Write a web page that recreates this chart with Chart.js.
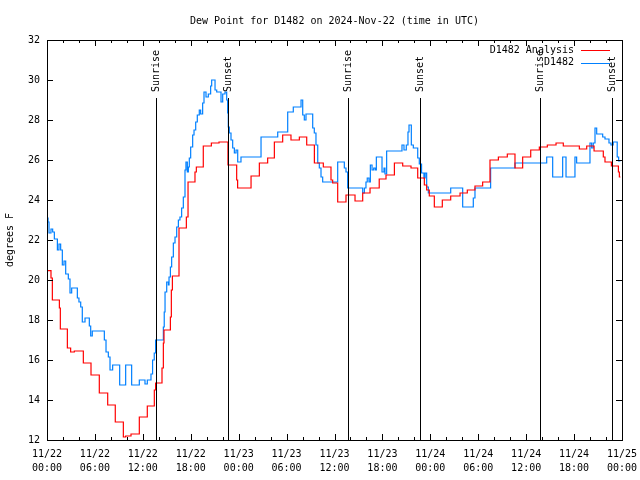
<!DOCTYPE html>
<html>
<head>
<meta charset="utf-8">
<script src="https://cdn.jsdelivr.net/npm/chart.js@4.4.1/dist/chart.umd.min.js"></script>
<style>
  html, body { margin: 0; padding: 0; background: #fff; }
</style>
</head>
<body>
<canvas id="dewpoint" width="640" height="480"></canvas>
<script>
// hours since 11/22 00:00 UTC -> dew point (F), each value holds until the next hour mark
const analysisHours = [0, 0.5, 0.67, 1.55, 1.67, 2.55, 2.96, 3.42, 4.55, 5.51, 6.55, 7.6, 8.55, 9.56, 9.85, 10.52, 11.56, 12.56, 13.44, 13.6,
  14.4, 14.57, 14.65, 15.45, 15.57, 15.7, 16.53, 17.45, 17.66, 18.53, 18.7, 19.57, 20.58, 21.54, 22.66, 23.75, 23.87, 25.55, 26.59, 27.63,
  28.47, 29.51, 30.55, 31.6, 32.52, 33.48, 34.6, 35.56, 35.77, 36.4, 37.44, 38.57, 39.53, 40.45, 41.6, 42.45, 43.5, 44.54, 45.58, 46.42,
  47.25, 47.54, 47.87, 48.5, 49.5, 50.55, 51.72, 52.63, 53.59, 54.55, 55.47, 56.52, 57.64, 58.6, 59.56, 60.57, 61.65, 62.65, 63.74, 64.65,
  66.66, 67.58, 68.5, 69.66, 69.87, 70.67, 71.55, 71.67, 71.8]
const analysisDew = [20.47, 20.1, 19.0, 18.6, 17.55, 16.6, 16.4, 16.45, 15.85, 15.25, 14.35, 13.75, 12.9, 12.15, 12.2, 12.3, 13.15, 13.7, 14.5, 14.85,
  15.6, 16.85, 17.5, 18.15, 19.5, 20.2, 22.6, 23.15, 24.9, 25.4, 25.65, 26.7, 26.85, 26.9, 25.75, 25.0, 24.6, 25.2, 25.85, 26.1,
  26.9, 27.25, 27.0, 27.15, 26.75, 25.85, 25.65, 25.0, 24.85, 23.9, 24.25, 23.95, 24.35, 24.6, 25.05, 25.25, 25.85, 25.7, 25.6, 25.1,
  24.75, 24.5, 24.2, 23.65, 24.0, 24.2, 24.35, 24.5, 24.7, 24.9, 26.0, 26.15, 26.3, 25.6, 26.15, 26.5, 26.65, 26.75, 26.85, 26.7,
  26.55, 26.7, 26.45, 26.15, 25.9, 25.7, 25.4, 25.15, 25.15]

const stationHours = [0, 0.13, 0.25, 0.5, 0.71, 0.92, 1.3, 1.5, 1.71, 1.92, 2.13, 2.34, 2.67, 2.88, 3.09, 3.8, 4.0, 4.22, 4.42, 4.76,
  5.3, 5.47, 5.67, 7.18, 7.39, 7.68, 7.89, 8.22, 9.1, 9.85, 10.6, 11.56, 12.27, 12.56, 13.02, 13.22, 13.43, 13.6, 14.57, 14.68,
  14.78, 14.99, 15.2, 15.28, 15.45, 15.61, 15.82, 16.03, 16.24, 16.45, 16.65, 16.86, 17.07, 17.28, 17.4, 17.57, 17.7, 17.82, 17.99, 18.24,
  18.41, 18.62, 18.82, 19.07, 19.24, 19.49, 19.66, 19.91, 20.2, 20.49, 20.62, 21.04, 21.25, 21.79, 22.0, 22.29, 22.5, 22.62, 22.7, 22.83,
  23.04, 23.25, 23.46, 23.67, 23.88, 24.29, 26.8, 28.89, 30.14, 30.84, 31.81, 32.02, 32.22, 32.43, 33.27, 33.47, 33.68, 33.9, 34.1, 34.31,
  34.52, 36.4, 37.23, 37.44, 37.65, 39.53, 39.74, 39.94, 40.1, 40.32, 40.49, 40.7, 40.91, 41.11, 41.24, 41.95, 42.2, 42.32, 42.53, 44.45,
  44.7, 44.99, 45.2, 45.33, 45.62, 45.87, 46.42, 46.62, 46.9, 47.2, 47.35, 47.54, 47.75, 50.55, 52.05, 53.38, 53.59, 55.55, 58.6, 62.57,
  63.32, 64.57, 64.99, 66.11, 66.32, 67.99, 68.2, 68.4, 68.62, 68.83, 69.58, 69.87, 70.37, 70.62, 70.9, 71.4, 71.58, 71.8]
const stationDew = [23.1, 22.9, 22.35, 22.55, 22.4, 22.05, 21.5, 21.8, 21.5, 20.75, 20.95, 20.3, 20.05, 19.35, 19.6, 19.1, 18.9, 18.65, 17.9, 18.1,
  17.7, 17.2, 17.45, 17.0, 16.4, 16.15, 15.5, 15.75, 14.75, 15.75, 14.75, 15.0, 14.8, 15.0, 15.3, 16.0, 16.35, 17.0, 17.65, 18.4,
  19.4, 19.9, 19.75, 20.15, 20.65, 21.15, 21.85, 22.15, 22.65, 23.0, 23.15, 23.6, 24.15, 25.5, 25.9, 25.4, 25.65, 26.1, 26.65, 27.25,
  27.5, 27.9, 28.25, 28.5, 28.3, 28.85, 29.4, 29.15, 29.3, 29.7, 30.0, 29.5, 29.4, 28.9, 29.3, 29.4, 29.0, 28.35, 27.65, 27.35,
  27.0, 26.6, 26.35, 26.5, 25.9, 26.15, 27.15, 27.4, 28.4, 28.65, 29.0, 28.25, 28.0, 28.3, 27.6, 27.35, 26.75, 25.85, 25.6, 25.15,
  24.9, 25.9, 25.6, 25.4, 24.6, 24.35, 24.6, 24.9, 25.1, 24.9, 25.75, 25.5, 25.6, 25.5, 26.15, 25.4, 25.6, 25.3, 26.45, 26.75,
  26.5, 26.75, 27.4, 27.75, 26.75, 26.6, 26.1, 25.8, 25.35, 25.1, 25.35, 24.65, 24.35, 24.6, 23.65, 24.1, 24.6, 25.6, 25.85, 26.15,
  25.15, 26.15, 25.15, 26.15, 25.85, 26.85, 26.6, 26.85, 27.6, 27.3, 27.15, 27.05, 26.85, 26.75, 26.9, 26.15, 25.95, 25.95]

const sunHours = [13.65, 22.7, 37.72, 46.7, 61.7, 70.8]
const sunLabels = ['Sunrise', 'Sunset', 'Sunrise', 'Sunset', 'Sunrise', 'Sunset']

const dayLabels = ['11/22', '11/22', '11/22', '11/22', '11/23', '11/23', '11/23', '11/23', '11/24', '11/24', '11/24', '11/24', '11/25']
const timeLabels = ['00:00', '06:00', '12:00', '18:00', '00:00', '06:00', '12:00', '18:00', '00:00', '06:00', '12:00', '18:00', '00:00']

const MONO = "'DejaVu Sans Mono', monospace"

function toPoints(hours, values) {
  return hours.map((h, i) => ({ x: h, y: values[i] }))
}

// gnuplot style frame: inward ticks, sunrise/sunset markers, legend
const gnuFrame = {
  id: 'gnuFrame',
  afterDatasetsDraw(chart) {
    const { ctx, chartArea: a, scales } = chart
    const x = scales.x
    const y = scales.y
    ctx.save()
    ctx.strokeStyle = '#000'
    ctx.lineWidth = 1
    ctx.beginPath()
    for (let h = 0; h <= 72; h += 2) {
      const px = Math.round(x.getPixelForValue(h)) + 0.5
      const len = h % 6 === 0 ? 6 : 3
      ctx.moveTo(px, a.bottom)
      ctx.lineTo(px, a.bottom - len)
      ctx.moveTo(px, a.top)
      ctx.lineTo(px, a.top + len)
    }
    for (let v = 12; v <= 32; v += 2) {
      const py = Math.round(y.getPixelForValue(v)) + 0.5
      ctx.moveTo(a.left, py)
      ctx.lineTo(a.left + 6, py)
      ctx.moveTo(a.right, py)
      ctx.lineTo(a.right - 6, py)
    }
    ctx.stroke()
    ctx.strokeRect(Math.round(a.left) + 0.5, Math.round(a.top) + 0.5, Math.round(a.right - a.left), Math.round(a.bottom - a.top))

    // sunrise / sunset
    ctx.font = '10px ' + MONO
    ctx.fillStyle = '#000'
    sunHours.forEach((h, i) => {
      const px = Math.round(x.getPixelForValue(h)) + 0.5
      ctx.beginPath()
      ctx.moveTo(px, a.top + 58)
      ctx.lineTo(px, a.bottom)
      ctx.stroke()
      ctx.save()
      ctx.translate(px, a.top + 52)
      ctx.rotate(-Math.PI / 2)
      ctx.textAlign = 'left'
      ctx.textBaseline = 'middle'
      ctx.fillText(sunLabels[i], 0, 0)
      ctx.restore()
    })

    // legend
    ctx.textAlign = 'right'
    ctx.textBaseline = 'middle'
    chart.data.datasets.forEach((ds, i) => {
      const ly = a.top + 10 + i * 12.5
      ctx.fillStyle = '#000'
      ctx.fillText(ds.label, a.right - 48, ly)
      ctx.strokeStyle = ds.borderColor
      ctx.beginPath()
      ctx.moveTo(a.right - 41, Math.round(ly) + 0.5)
      ctx.lineTo(a.right - 12, Math.round(ly) + 0.5)
      ctx.stroke()
    })
    ctx.restore()
  },
}

Chart.defaults.font.family = MONO
Chart.defaults.font.size = 10
Chart.defaults.color = '#000'

const ctx = document.getElementById('dewpoint').getContext('2d')
const dewChart = new Chart(ctx, {
  type: 'line',
  data: {
    datasets: [
      {
        label: 'D1482 Analysis',
        data: toPoints(analysisHours, analysisDew),
        borderColor: '#ff0000',
        borderWidth: 1.2,
        pointRadius: 0,
        stepped: 'before',
        fill: false,
      },
      {
        label: 'D1482',
        data: toPoints(stationHours, stationDew),
        borderColor: '#0080ff',
        borderWidth: 1.2,
        pointRadius: 0,
        stepped: 'before',
        fill: false,
      },
    ],
  },
  options: {
    responsive: false,
    animation: false,
    devicePixelRatio: 1,
    layout: { padding: { top: 0, right: 18, bottom: 0, left: 0 } },
    scales: {
      x: {
        type: 'linear',
        min: 0,
        max: 72,
        grid: { display: false, drawTicks: false },
        border: { display: false },
        afterFit: (scale) => {
          scale.height = 40
          scale.paddingLeft = 0
          scale.paddingRight = 0
        },
        ticks: {
          stepSize: 6,
          autoSkip: false,
          maxRotation: 0,
          padding: 7,
          font: { size: 10, lineHeight: 1.4 },
          callback: (value) => {
            const i = Math.round(value / 6)
            return [dayLabels[i], timeLabels[i]]
          },
        },
      },
      y: {
        min: 12,
        max: 32,
        grid: { display: false, drawTicks: false },
        border: { display: false },
        afterFit: (scale) => { scale.width = 47 },
        ticks: { stepSize: 2, padding: 7 },
        title: {
          display: true,
          text: 'degrees F',
          padding: { top: 4, bottom: 0 },
        },
      },
    },
    plugins: {
      legend: { display: false },
      tooltip: { enabled: false },
      title: {
        display: true,
        fullSize: false,
        text: 'Dew Point for D1482 on 2024-Nov-22 (time in UTC)',
        font: { size: 10, weight: 'normal' },
        padding: { top: 15, bottom: 13 },
      },
    },
  },
  plugins: [gnuFrame],
})
</script>
</body>
</html>
